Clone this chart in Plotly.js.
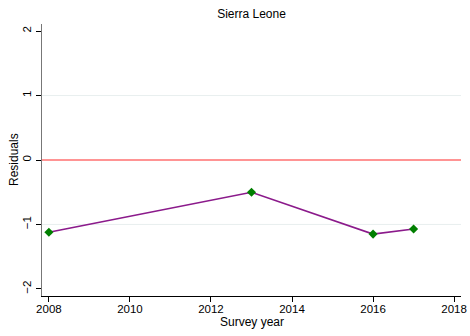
<!DOCTYPE html>
<html><head><meta charset="utf-8">
<script src="https://cdn.plot.ly/plotly-3.0.1.min.js"></script>
<style>html,body{margin:0;padding:0;background:#fff}#chart{width:470px;height:336px}</style>
</head><body><div id="chart"></div>
<script>
const years = [2008, 2013, 2016, 2017];
const residuals = [-1.12, -0.50, -1.15, -1.07];
const xTicks = [2008, 2010, 2012, 2014, 2016, 2018];
const yTicks = [-2, -1, 0, 1, 2];
const gridVals = [-1, 1];

const font = {family: 'Liberation Sans, Arial, Helvetica, sans-serif', size: 12, color: '#000'};
const shapes = gridVals.map(v => ({type: 'line', xref: 'paper', x0: 0, x1: 1, yref: 'y', y0: v, y1: v,
  line: {color: '#e8efef', width: 1}, layer: 'below'}));
shapes.push({type: 'line', xref: 'paper', x0: 0, x1: 1, yref: 'y', y0: 0, y1: 0,
  line: {color: '#ff7070', width: 1.6}, layer: 'below'});

Plotly.newPlot('chart', [{
  x: years, y: residuals, type: 'scatter', mode: 'lines+markers',
  line: {color: '#8b1a8b', width: 1.6},
  marker: {symbol: 'diamond', color: '#007f00', size: 7}
}], {
  width: 470, height: 336,
  margin: {l: 42, r: 9, t: 24, b: 40},
  paper_bgcolor: '#fff', plot_bgcolor: '#fff',
  showlegend: false,
  font: font,
  title: {text: 'Sierra Leone', x: 0.5, xref: 'paper', yref: 'container', y: 0.958, yanchor: 'middle', font: {size: 12, family: font.family, color: '#000'}},
  xaxis: {range: [2007.83, 2018.17], tickvals: xTicks, ticks: 'outside', ticklen: 5, tickcolor: '#000',
    ticklabelstandoff: -3,
    showline: true, linecolor: '#000', linewidth: 1.2, showgrid: false, zeroline: false,
    tickfont: {size: 11.5}},
  yaxis: {range: [-2.11, 2.11], tickvals: yTicks, ticktext: ['\u22122', '\u22121', '0', '1', '2'],
    ticks: 'outside', ticklen: 5, tickcolor: '#000', tickangle: -90,
    showline: true, linecolor: '#777', linewidth: 1.5, showgrid: false, zeroline: false,
    tickfont: {size: 11.5}},
  annotations: [
    {text: 'Survey year', xref: 'paper', yref: 'paper', x: 0.5, y: -0.0956, xanchor: 'center', yanchor: 'middle', showarrow: false, font: {size: 12}},
    {text: 'Residuals', xref: 'paper', yref: 'paper', x: -0.0668, y: 0.5, textangle: -90, xanchor: 'center', yanchor: 'middle', showarrow: false, font: {size: 12}}
  ],
  shapes: shapes
}, {displayModeBar: false, staticPlot: true});
</script></body></html>
